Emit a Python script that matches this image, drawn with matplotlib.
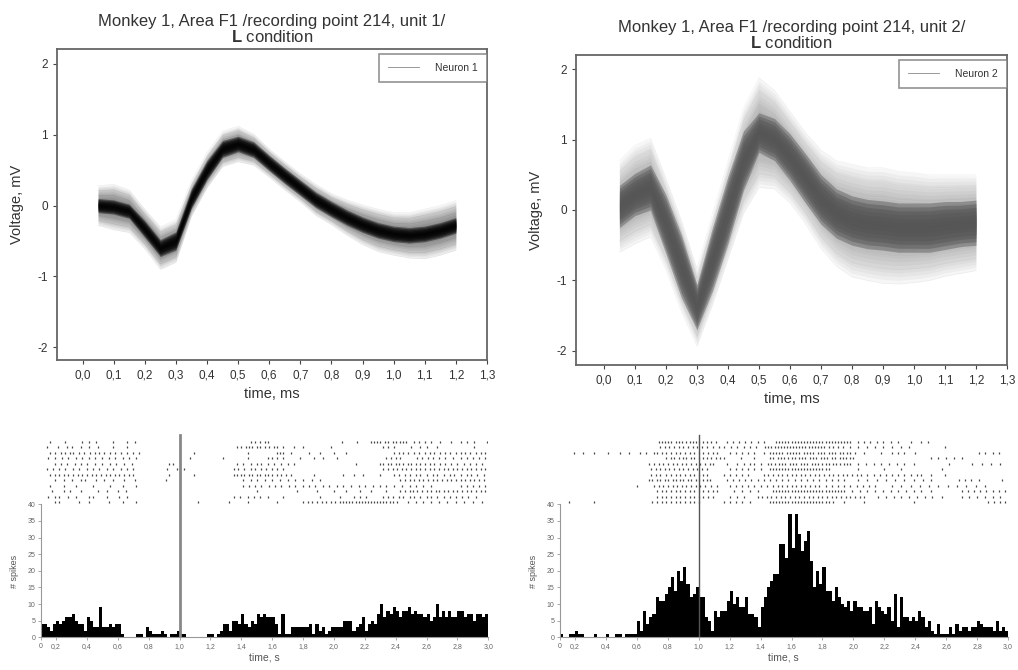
import numpy as np
import matplotlib
matplotlib.use("Agg")
import matplotlib.pyplot as plt
from matplotlib.lines import Line2D

plt.rcParams['font.family'] = ['Liberation Sans', 'DejaVu Sans']
plt.rcParams['mathtext.fontset'] = 'custom'
plt.rcParams['mathtext.rm'] = 'Liberation Sans'
plt.rcParams['mathtext.bf'] = 'Liberation Sans:bold'
plt.rcParams['axes.unicode_minus'] = False

# ---------------- waveform data (ms, mV) ----------------
wave_t = [0.05, 0.10, 0.15, 0.20, 0.25, 0.30, 0.35, 0.40, 0.45, 0.50, 0.55, 0.60,
          0.65, 0.70, 0.75, 0.80, 0.85, 0.90, 0.95, 1.00, 1.05, 1.10, 1.15, 1.20]

unit1_mean = [0.00, -0.02, -0.08, -0.33, -0.60, -0.50, 0.10, 0.50, 0.80, 0.87, 0.79, 0.60,
              0.42, 0.25, 0.08, -0.05, -0.17, -0.27, -0.35, -0.40, -0.42, -0.40, -0.35, -0.28]
unit1_core = [0.10, 0.10, 0.10, 0.12, 0.12, 0.13, 0.14, 0.14, 0.12, 0.11, 0.11, 0.11,
              0.11, 0.11, 0.11, 0.11, 0.11, 0.11, 0.11, 0.11, 0.11, 0.11, 0.11, 0.11]
unit1_spread = [0.28, 0.32, 0.30, 0.28, 0.30, 0.30, 0.25, 0.25, 0.25, 0.25, 0.22, 0.20,
                0.20, 0.20, 0.22, 0.22, 0.25, 0.28, 0.30, 0.30, 0.32, 0.35, 0.35, 0.35]

unit2_mean = [0.05, 0.22, 0.32, -0.20, -0.80, -1.38, -0.70, 0.00, 0.70, 1.10, 1.00, 0.75,
              0.45, 0.15, -0.05, -0.15, -0.20, -0.22, -0.25, -0.25, -0.25, -0.22, -0.20, -0.18]
unit2_core = [0.30, 0.30, 0.32, 0.42, 0.45, 0.32, 0.45, 0.48, 0.42, 0.28, 0.30, 0.33,
              0.35, 0.35, 0.35, 0.35, 0.35, 0.35, 0.35, 0.35, 0.35, 0.34, 0.32, 0.32]
unit2_spread = [0.65, 0.70, 0.70, 0.65, 0.65, 0.55, 0.65, 0.70, 0.75, 0.78, 0.70, 0.65,
                0.65, 0.70, 0.75, 0.80, 0.80, 0.82, 0.80, 0.78, 0.75, 0.72, 0.70, 0.68]

wave_xticks = [0.0, 0.1, 0.2, 0.3, 0.4, 0.5, 0.6, 0.7, 0.8, 0.9, 1.0, 1.1, 1.2, 1.3]
wave_xlabels = ["0,0", "0,1", "0,2", "0,3", "0,4", "0,5", "0,6", "0,7", "0,8", "0,9",
                "1,0", "1,1", "1,2", "1,3"]
wave_yticks = [-2, -1, 0, 1, 2]

# ---------------- PSTH data (20 ms bins starting at 0.1 s) ----------------
hist_start = 0.1
bin_w = 0.02
counts1 = [4, 4, 3, 2, 4, 5, 4, 5, 6, 6, 7, 5, 4, 4, 2, 6, 5, 3, 3, 9,
           3, 3, 4, 3, 4, 4, 1, 0, 0, 0, 0, 1, 1, 0, 3, 2, 1, 1, 1, 2,
           1, 0, 1, 1, 2, 1, 1, 0, 0, 0, 0, 0, 0, 0, 1, 1, 0, 1, 2, 4,
           4, 2, 5, 5, 4, 7, 4, 3, 5, 4, 7, 6, 7, 6, 6, 6, 4, 1, 7, 1,
           1, 3, 3, 3, 3, 3, 3, 4, 1, 4, 2, 3, 1, 2, 3, 3, 3, 3, 5, 5,
           5, 2, 3, 4, 6, 2, 4, 5, 4, 7, 10, 6, 8, 7, 9, 8, 6, 8, 8, 9,
           7, 8, 7, 7, 6, 7, 5, 6, 10, 6, 8, 6, 8, 6, 6, 8, 8, 6, 7, 7,
           5, 7, 7, 6, 7]
counts2 = [1, 0, 0, 1, 1, 2, 1, 1, 0, 0, 0, 1, 0, 0, 0, 1, 0, 0, 1, 1,
           0, 1, 1, 1, 1, 5, 2, 8, 4, 6, 7, 12, 11, 11, 13, 15, 18, 14, 20, 17,
           21, 16, 12, 13, 15, 12, 12, 6, 5, 2, 8, 6, 8, 8, 11, 14, 10, 12, 9, 9,
           12, 7, 7, 6, 3, 9, 12, 15, 17, 19, 19, 28, 28, 24, 37, 27, 37, 31, 26, 29,
           32, 23, 15, 20, 16, 21, 14, 14, 11, 15, 12, 10, 9, 11, 8, 11, 9, 9, 8, 8,
           9, 4, 11, 9, 8, 7, 9, 5, 13, 3, 12, 6, 6, 5, 6, 5, 8, 6, 3, 5,
           2, 1, 4, 1, 1, 1, 3, 1, 4, 2, 3, 3, 2, 3, 3, 5, 4, 3, 3, 3,
           2, 5, 2, 3, 2]

hist_xticks = [0.1, 0.2, 0.4, 0.6, 0.8, 1.0, 1.2, 1.4, 1.6, 1.8, 2.0, 2.2, 2.4, 2.6, 2.8, 3.0]
hist_xlabels = ["0", "0,2", "0,4", "0,6", "0,8", "1,0", "1,2", "1,4", "1,6", "1,8",
                "2,0", "2,2", "2,4", "2,6", "2,8", "3,0"]
hist_yticks = [0, 5, 10, 15, 20, 25, 30, 35, 40]
event_time = 1.0

# ---------------- raster data (spike times, s), top row first ----------------
raster1 = [
    "0.16 0.26 0.37 0.41 0.46 0.57 0.66 0.71 1.46 1.49 1.52 1.55 1.57 2.05 2.15 2.24 2.26 2.28 2.30 2.33 2.35 2.38 2.40 2.43 2.45 2.47 2.52 2.55 2.59 2.63 2.69 2.76 2.82 2.86 2.91 2.99",
    "0.14 0.21 0.27 0.30 0.36 0.41 0.47 0.57 0.66 1.37 1.40 1.43 1.45 1.47 1.50 1.52 1.55 1.58 1.61 1.63 1.67 1.74 1.80 1.98 2.32 2.35 2.39 2.50 2.56 2.60 2.67 2.91",
    "0.16 0.19 0.23 0.26 0.29 0.31 0.35 0.38 0.42 0.45 0.48 0.51 0.55 0.58 0.62 0.66 0.70 0.74 1.09 1.44 1.63 1.65 1.67 1.72 1.84 1.91 2.00 2.08 2.39 2.42 2.45 2.48 2.52 2.55 2.59 2.62 2.65 2.69 2.72 2.75 2.79 2.82 2.85 2.88 2.92 2.95 2.98",
    "0.15 0.19 0.24 0.28 0.33 0.37 0.41 0.45 0.50 0.54 0.58 0.63 0.67 0.72 1.07 1.28 1.44 1.57 1.60 1.63 1.67 1.78 1.87 1.93 2.02 2.34 2.37 2.40 2.43 2.54 2.57 2.61 2.64 2.68 2.72 2.77 2.82 2.86 2.90 2.94 2.98",
    "0.19 0.23 0.27 0.32 0.36 0.40 0.45 0.50 0.55 0.59 0.64 0.69 0.93 0.96 1.37 1.41 1.46 1.50 1.53 1.57 1.61 1.66 1.70 1.74 2.14 2.30 2.32 2.35 2.37 2.40 2.42 2.45 2.48 2.50 2.53 2.56 2.59 2.62 2.65 2.69 2.72 2.76 2.80 2.84 2.88 2.92 2.96",
    "0.14 0.18 0.22 0.26 0.31 0.35 0.40 0.44 0.48 0.53 0.57 0.62 0.66 0.70 0.92 0.98 1.03 1.35 1.38 1.42 1.46 1.49 1.53 1.56 1.60 1.63 1.67 2.32 2.35 2.38 2.41 2.44 2.47 2.50 2.53 2.56 2.59 2.62 2.65 2.68 2.71 2.74 2.77 2.80 2.83 2.86 2.89 2.92 2.95 2.98",
    "0.16 0.19 0.22 0.25 0.28 0.31 0.34 0.37 0.40 0.43 0.46 0.49 0.52 0.55 0.58 0.61 0.64 0.67 0.70 0.93 1.00 1.09 1.35 1.37 1.40 1.42 1.45 1.47 1.50 1.52 1.55 1.57 1.60 1.63 1.66 1.69 1.72 1.87 2.06 2.13 2.19 2.30 2.39 2.42 2.46 2.49 2.53 2.56 2.60 2.64 2.67 2.71 2.75 2.78 2.82 2.86 2.89 2.93 2.97",
    "0.19 0.25 0.30 0.36 0.39 0.46 0.51 0.57 0.64 0.71 0.91 1.00 1.41 1.46 1.50 1.55 1.60 1.65 1.70 1.75 1.80 1.86 1.91 2.43 2.46 2.49 2.52 2.55 2.58 2.61 2.64 2.67 2.70 2.73 2.76 2.79 2.82 2.85 2.88 2.91 2.94 2.97",
    "0.16 0.25 0.33 0.44 0.55 0.63 0.72 1.41 1.45 1.49 1.53 1.58 1.62 1.66 1.71 1.75 1.80 1.84 1.88 1.93 1.97 2.02 2.06 2.11 2.16 2.20 2.25 2.30 2.34 2.39 2.44 2.49 2.53 2.58 2.63 2.82 2.86 2.90 2.94 2.98",
    "0.17 0.25 0.29 0.36 0.47 0.53 0.60 0.65 1.50 1.76 1.89 2.00 2.08 2.17 2.24 2.34 2.43 2.46 2.49 2.51 2.54 2.57 2.60 2.63 2.66 2.68 2.71 2.74 2.77 2.80 2.83 2.86 2.89 2.92 2.95 2.98",
    "0.15 0.19 0.22 0.28 0.33 0.41 0.44 0.53 0.61 0.66 1.35 1.39 1.44 1.48 1.52 1.57 1.67 1.91 2.04 2.13 2.17 2.21 2.32 2.35 2.38 2.42 2.45 2.49 2.52 2.56 2.60 2.63 2.67 2.71 2.75 2.79 2.83 2.87 2.92",
    "0.19 0.22 0.35 0.41 0.54 0.63 0.72 1.00 1.12 1.32 1.44 1.63 1.80 1.83 1.86 1.89 1.92 1.95 1.98 2.01 2.04 2.06 2.08 2.10 2.12 2.14 2.16 2.18 2.20 2.22 2.24 2.26 2.28 2.30 2.32 2.34 2.36 2.38 2.41 2.48 2.53 2.58 2.63 2.68 2.73 2.79 2.84 2.90 2.96",
]
raster2 = [
    "0.74 0.76 0.78 0.80 0.82 0.85 0.87 0.89 0.92 0.94 0.96 0.98 1.00 1.03 1.05 1.08 1.11 1.18 1.22 1.26 1.30 1.34 1.38 1.42 1.50 1.52 1.54 1.56 1.58 1.60 1.62 1.64 1.66 1.68 1.70 1.72 1.74 1.76 1.78 1.80 1.82 1.84 1.86 1.88 1.90 1.92 1.94 1.96 1.98 2.03 2.07 2.11 2.15 2.19 2.24 2.29 2.37 2.44 2.48",
    "0.75 0.78 0.81 0.84 0.87 0.90 0.93 0.96 0.99 1.02 1.05 1.09 1.13 1.16 1.21 1.25 1.29 1.33 1.37 1.43 1.45 1.47 1.49 1.51 1.53 1.55 1.57 1.59 1.61 1.63 1.65 1.67 1.69 1.71 1.73 1.75 1.77 1.79 1.81 1.84 1.87 1.90 1.93 1.98 2.03 2.09 2.14 2.19 2.25 2.31 2.36 2.59",
    "0.19 0.25 0.32 0.41 0.49 0.55 0.62 0.66 0.71 0.73 0.76 0.79 0.82 0.85 0.88 0.91 0.94 0.97 1.00 1.03 1.06 1.09 1.12 1.20 1.24 1.28 1.32 1.36 1.42 1.46 1.48 1.50 1.52 1.54 1.57 1.59 1.61 1.63 1.65 1.68 1.70 1.72 1.74 1.77 1.79 1.81 1.84 1.86 1.88 1.91 1.93 1.96 1.98 2.01 2.07 2.18 2.25 2.29 2.33 2.40 2.81 2.85 2.90 2.94",
    "0.79 0.82 0.84 0.87 0.90 0.92 0.95 0.97 1.00 1.03 1.05 1.08 1.11 1.14 1.16 1.27 1.36 1.46 1.48 1.51 1.53 1.55 1.58 1.60 1.62 1.65 1.67 1.69 1.72 1.74 1.76 1.79 1.81 1.83 1.86 1.88 1.91 1.93 1.95 1.98 2.00 2.50 2.55 2.60 2.65 2.70",
    "0.68 0.71 0.74 0.77 0.80 0.83 0.86 0.89 0.92 0.95 0.98 1.01 1.04 1.07 1.09 1.18 1.25 1.29 1.33 1.36 1.40 1.45 1.47 1.49 1.52 1.54 1.56 1.59 1.61 1.63 1.66 1.68 1.70 1.73 1.75 1.77 1.80 1.82 1.84 1.87 1.89 1.91 1.94 1.96 1.98 2.03 2.08 2.13 2.18 2.23 2.28 2.33 2.39 2.62 2.77 2.83 2.89 2.95",
    "0.69 0.72 0.75 0.78 0.81 0.84 0.87 0.90 0.93 0.96 0.99 1.02 1.05 1.20 1.24 1.28 1.32 1.36 1.40 1.46 1.48 1.50 1.52 1.54 1.56 1.58 1.60 1.62 1.64 1.66 1.68 1.70 1.72 1.74 1.76 1.78 1.80 1.82 1.84 2.03 2.20 2.31 2.57",
    "0.69 0.72 0.75 0.79 0.82 0.85 0.88 0.91 0.94 0.97 1.00 1.03 1.05 1.16 1.20 1.24 1.28 1.32 1.42 1.45 1.48 1.51 1.54 1.57 1.60 1.63 1.66 1.69 1.72 1.75 1.78 1.81 1.84 1.87 1.90 1.93 1.96 1.99 2.02 2.05 2.09 2.13 2.17 2.21 2.25 2.29 2.33 2.37 2.41 2.44 2.50 2.59",
    "0.68 0.70 0.73 0.75 0.78 0.80 0.83 0.85 0.88 0.90 0.93 0.95 0.98 1.00 1.03 1.05 1.07 1.18 1.22 1.26 1.30 1.34 1.38 1.42 1.46 1.50 1.54 1.58 1.62 1.66 1.70 1.74 1.78 1.82 1.86 1.90 1.94 2.03 2.09 2.15 2.21 2.27 2.33 2.39 2.45 2.50 2.68 2.72 2.76 2.81 2.96",
    "0.60 0.71 0.74 0.77 0.80 0.83 0.86 0.89 0.92 0.95 0.98 1.01 1.04 1.08 1.12 1.20 1.24 1.28 1.32 1.36 1.40 1.44 1.48 1.51 1.54 1.57 1.60 1.63 1.66 1.69 1.72 1.75 1.78 1.82 1.86 1.90 1.94 1.98 2.02 2.06 2.10 2.14 2.25 2.31 2.37 2.43 2.49 2.55 2.61 2.67 2.73 2.79 2.85",
    "0.73 0.76 0.79 0.82 0.85 0.88 0.91 0.94 0.97 1.00 1.03 1.06 1.09 1.12 1.23 1.28 1.33 1.38 1.48 1.50 1.52 1.54 1.56 1.58 1.60 1.62 1.64 1.66 1.68 1.70 1.72 1.74 1.76 1.78 1.80 1.82 1.84 1.86 1.88 1.90 1.92 1.94 1.99 2.04 2.09 2.14 2.19 2.24 2.29 2.34 2.39 2.44 2.50 2.70 2.74 2.78 2.82 2.86 2.90 2.94 2.98",
    "0.73 0.76 0.79 0.82 0.85 0.88 0.91 0.94 0.97 1.00 1.03 1.06 1.09 1.20 1.25 1.29 1.38 1.41 1.44 1.47 1.50 1.53 1.56 1.59 1.62 1.65 1.68 1.71 1.74 1.77 1.80 1.83 1.86 1.89 1.92 1.95 1.98 2.01 2.04 2.07 2.16 2.21 2.26 2.31 2.36 2.41 2.46 2.51 2.57 2.70 2.75 2.80 2.85 2.90 2.95",
    "0.16 0.32 0.70 0.73 0.76 0.79 0.82 0.85 0.88 0.91 0.94 0.97 1.00 1.16 1.20 1.24 1.28 1.33 1.46 1.48 1.50 1.52 1.54 1.56 1.58 1.60 1.62 1.64 1.66 1.68 1.70 1.72 1.74 1.76 1.78 1.80 1.82 1.84 1.87 1.94 2.07 2.39 2.87 2.91 2.95 2.98",
]
raster_top = 58.8
raster_bottom = 40.6

titles = ["Monkey 1, Area F1 /recording point 214, unit 1/\n$\\mathbf{L}$ condition",
          "Monkey 1, Area F1 /recording point 214, unit 2/\n$\\mathbf{L}$ condition"]
legend_names = ["Neuron 1", "Neuron 2"]

W, H = 1018, 670
fig = plt.figure(figsize=(W / 100, H / 100), dpi=100)


def px_axes(x0, y0, x1, y1):
    return fig.add_axes([x0 / W, 1 - y1 / H, (x1 - x0) / W, (y1 - y0) / H])


def waveform_panel(ax, mean, core, spread, color, core_alpha, title, name, xlim, ylim):
    t = np.array(wave_t)
    m = np.array(mean)
    c = np.array(core)
    s = np.array(spread)
    # soft outer envelope made of nested translucent bands
    for f in np.linspace(1.0, 0.15, 14):
        ax.fill_between(t, m - f * s, m + f * s, color=color, alpha=0.05, lw=0)
    for f in np.linspace(1.0, 0.2, 6):
        ax.fill_between(t, m - f * c, m + f * c, color=color, alpha=core_alpha, lw=0)
    for f in np.linspace(-1, 1, 9):
        ax.plot(t, m + f * s, color=color, lw=0.4, alpha=0.08)
    ax.set_xlim(*xlim)
    ax.set_ylim(*ylim)
    ax.set_xticks(wave_xticks)
    ax.set_xticklabels(wave_xlabels)
    ax.set_yticks(wave_yticks)
    ax.tick_params(labelsize=8.5, length=3, width=0.8, color='#444', labelcolor='#333')
    for sp in ax.spines.values():
        sp.set_color('#666')
        sp.set_linewidth(1.3)
    ax.set_xlabel("time, ms", fontsize=10.5, color='#333', labelpad=4)
    ax.set_ylabel("Voltage, mV", fontsize=10.5, color='#333', labelpad=10)
    ax.set_title(title, fontsize=12, color='#333', linespacing=1.0, pad=5)
    h = [Line2D([0], [0], color='#888', lw=0.6)]
    leg = ax.legend(h, [name], loc='upper right', fontsize=7.5, frameon=True,
                    fancybox=False, borderaxespad=0.0, bbox_to_anchor=(1.0, 0.985),
                    handlelength=3.0, handletextpad=1.5, borderpad=0.9,
                    labelspacing=0.3)
    leg.get_frame().set_edgecolor('#777')
    leg.get_frame().set_linewidth(1.2)
    for txt in leg.get_texts():
        txt.set_color('#333')


def psth_panel(ax, counts, raster, line_color, line_w):
    edges = hist_start + bin_w * np.arange(len(counts))
    ax.bar(edges, counts, width=bin_w, align='edge', color='k', linewidth=0)
    rows = [np.array([float(v) for v in r.split()]) for r in raster]
    offs = np.linspace(raster_top, raster_bottom, len(rows))
    ax.eventplot(rows, lineoffsets=offs, linelengths=0.6, linewidths=0.9, colors='#444')
    ax.plot([event_time, event_time], [0, 60.8], color=line_color, lw=line_w)
    ax.set_xlim(hist_start, 3.0)
    ax.set_ylim(0, 62)
    ax.spines['top'].set_visible(False)
    ax.spines['right'].set_visible(False)
    ax.spines['left'].set_bounds(0, 40)
    ax.spines['left'].set_color('#999')
    ax.spines['bottom'].set_color('#999')
    ax.spines['left'].set_linewidth(0.8)
    ax.spines['bottom'].set_linewidth(0.8)
    ax.set_xticks(hist_xticks)
    ax.set_xticklabels(hist_xlabels)
    ax.set_yticks(hist_yticks)
    ax.tick_params(labelsize=5, length=2, width=0.6, color='#999', labelcolor='#666', pad=2)
    ax.set_xlabel("time, s", fontsize=7.5, color='#555', labelpad=2)
    ax.set_ylabel("# spikes", fontsize=6.5, color='#555', labelpad=1)
    ax.yaxis.set_label_coords(-0.048, 0.32)


ax1 = px_axes(57, 49, 487, 360)
waveform_panel(ax1, unit1_mean, unit1_core, unit1_spread, 'k', 0.4, titles[0], legend_names[0],
               (-0.082, 1.3), (-2.18, 2.21))
ax2 = px_axes(576, 55, 1007, 365)
waveform_panel(ax2, unit2_mean, unit2_core, unit2_spread, '#555', 0.45, titles[1], legend_names[1],
               (-0.09, 1.3), (-2.2, 2.2))

ax3 = px_axes(40.7, 431.2, 488.3, 637.3)
psth_panel(ax3, counts1, raster1, '#888', 2.0)
ax4 = px_axes(559.7, 431.2, 1008, 637.3)
psth_panel(ax4, counts2, raster2, '#555', 1.0)

fig.savefig("out.png", dpi=100)
